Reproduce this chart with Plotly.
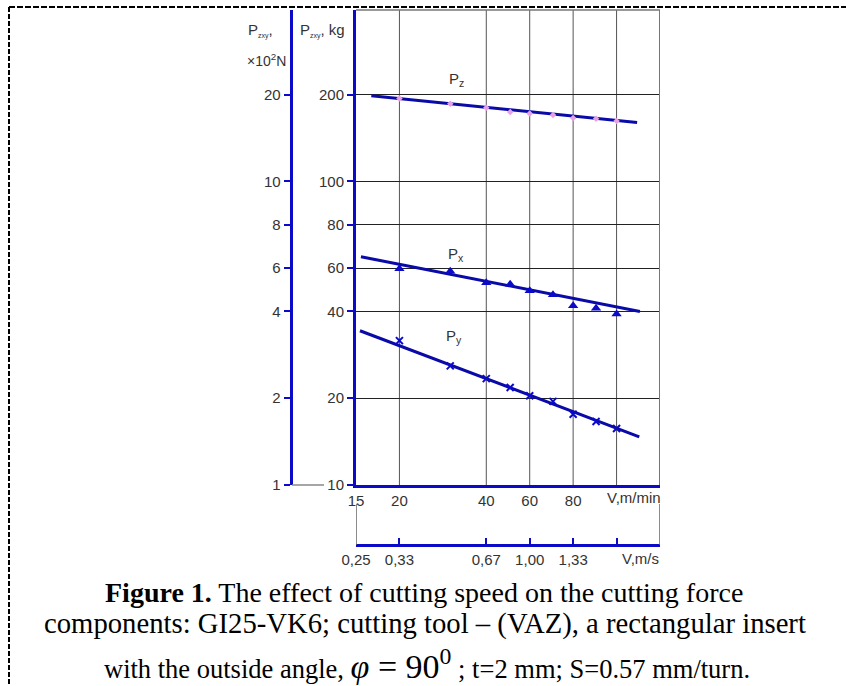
import numpy as np
import plotly.graph_objects as go

# ---- data ----
V_mmin = [20, 30, 40, 50, 60, 70, 80, 90, 100]
Pz_kg = [194, 186, 180, 174, 172, 170, 166, 165, 162]
Px_kg = [59.7, 58.2, 52.3, 51.6, 48.6, 46.8, 42.2, 41.2, 39.2]
Py_kg = [31.7, 25.9, 23.4, 21.8, 20.4, 19.5, 17.6, 16.6, 15.7]

# fitted straight lines: (V start, V end), (P start, P end)
Pz_fit_v = [16.6, 109]
Pz_fit_p = [198, 160]
Px_fit_v = [15.5, 110.3]
Px_fit_p = [64.7, 40.0]
Py_fit_v = [15.4, 110]
Py_fit_p = [34.3, 14.7]

# axis scales of the original (graph-paper scale)
X_SCALE_V = [15, 20, 40, 60, 80, 100, 120]
X_SCALE_POS = [0, 1, 3, 4, 5, 6, 7]
Y_SCALE_V = [10, 20, 40, 60, 80, 100, 200]
Y_SCALE_POS = [0, 2, 4, 5, 6, 7, 9]

x_ticks_v = [15, 20, 40, 60, 80]
x_ticks_ms = ['0,25', '0,33', '0,67', '1,00', '1,33', '', '']
x_ticks_ms_v = [15, 20, 40, 60, 80, 100, 120]
y_ticks_kg = [10, 20, 40, 60, 80, 100, 200]
y_ticks_N = ['1', '2', '4', '6', '8', '10', '20']


def xs(v):
    return np.interp(np.log(np.asarray(v, float)), np.log(X_SCALE_V), X_SCALE_POS)


def ys(v):
    return np.interp(np.log(np.asarray(v, float)), np.log(Y_SCALE_V), Y_SCALE_POS)


W, H = 846, 686
BLUE = '#0a0ac8'
LINEBLUE = '#0a0aa8'
TXT = '#333333'
SANS = 'Liberation Sans, Arial, sans-serif'
SERIF = 'Liberation Serif, Times New Roman, serif'


def px(x):
    return x / W


def py(y):
    return 1 - y / H


fig = go.Figure()

# fitted lines
for fv, fp in [(Pz_fit_v, Pz_fit_p), (Px_fit_v, Px_fit_p), (Py_fit_v, Py_fit_p)]:
    fig.add_trace(go.Scatter(x=xs(fv), y=ys(fp), mode='lines',
                             line=dict(color=LINEBLUE, width=3), hoverinfo='skip'))

fig.add_trace(go.Scatter(x=xs(V_mmin), y=ys(Pz_kg), mode='markers',
                         marker=dict(symbol='diamond', size=5, color='#e6a0e6'), name='Pz'))
fig.add_trace(go.Scatter(x=xs(V_mmin), y=ys(Px_kg), mode='markers',
                         marker=dict(symbol='triangle-up', size=9, color=BLUE), name='Px'))
fig.add_trace(go.Scatter(x=xs(V_mmin), y=ys(Py_kg), mode='markers',
                         marker=dict(symbol='x-thin', size=7, line=dict(color=BLUE, width=2)), name='Py'))

# invisible traces to activate secondary axes
fig.add_trace(go.Scatter(x=[0], y=[0], yaxis='y2', mode='markers', marker=dict(opacity=0), hoverinfo='skip'))
fig.add_trace(go.Scatter(x=[0], y=[0], xaxis='x2', mode='markers', marker=dict(opacity=0), hoverinfo='skip'))

x_dom = [px(356), px(660)]
y_dom = [py(485), py(10)]
TF = dict(family=SANS, size=15, color=TXT)

fig.update_layout(
    width=W, height=H, margin=dict(l=0, r=0, t=0, b=0, autoexpand=False),
    paper_bgcolor='white', plot_bgcolor='white', showlegend=False,
    xaxis=dict(domain=x_dom, range=[0, 7], tickvals=xs(x_ticks_v),
               ticktext=[str(v) for v in x_ticks_v], automargin=False,
               showgrid=False, zeroline=False,
               showline=True, linecolor=BLUE, linewidth=3, ticks='',
               tickfont=TF, anchor='y'),
    xaxis2=dict(overlaying='x', anchor='free', position=py(545), side='bottom',
                range=[0, 7], tickvals=xs(x_ticks_ms_v), ticktext=x_ticks_ms, automargin=False,
                showgrid=False, zeroline=False, showline=True, linecolor=BLUE, linewidth=3,
                ticks='inside', ticklen=6, tickwidth=2, tickcolor=BLUE,
                tickfont=TF),
    yaxis=dict(domain=y_dom, range=[0, 10.95], tickvals=ys(y_ticks_kg),
               ticktext=[str(v) for v in y_ticks_kg], automargin=False,
               showgrid=True, gridcolor='#222222', gridwidth=1, zeroline=False,
               showline=True, linecolor=BLUE, linewidth=3,
               ticks='outside', ticklen=6, tickwidth=2, tickcolor=BLUE,
               tickfont=TF, anchor='x'),
    yaxis2=dict(overlaying='y', anchor='free', position=px(290.7), side='left',
                range=[0, 10.95], tickvals=ys(y_ticks_kg), ticktext=y_ticks_N, automargin=False,
                showgrid=False, zeroline=False, showline=True, linecolor=BLUE, linewidth=3,
                ticks='outside', ticklen=6, tickwidth=2, tickcolor=BLUE,
                tickfont=TF),
)

shapes = []
# vertical gridlines
for v in [20, 40, 60, 80, 100]:
    shapes.append(dict(type='line', xref='x', yref='paper', x0=float(xs(v)), x1=float(xs(v)),
                       y0=y_dom[0], y1=y_dom[1], line=dict(color='#555555', width=1), layer='below'))
# right and top border of the grid
shapes.append(dict(type='line', xref='x', yref='paper', x0=7, x1=7, y0=y_dom[0], y1=y_dom[1],
                   line=dict(color='#777777', width=2)))
shapes.append(dict(type='line', xref='x', yref='paper', x0=0, x1=7, y0=y_dom[1], y1=y_dom[1],
                   line=dict(color='#777777', width=1.5)))
# connectors between the two x scales
for xv in [0, 7]:
    shapes.append(dict(type='line', xref='x', yref='paper', x0=xv, x1=xv, y0=py(545), y1=py(504),
                       line=dict(color='#666666', width=1.5)))
# line from "1" to "10"
shapes.append(dict(type='line', xref='paper', yref='paper', x0=px(292), x1=px(324), y0=py(485), y1=py(485),
                   line=dict(color='#888888', width=1.5)))
# dashed frame
shapes.append(dict(type='line', xref='paper', yref='paper', x0=px(9), x1=1, y0=py(7), y1=py(7),
                   line=dict(color='black', width=2, dash='6px,2px')))
shapes.append(dict(type='line', xref='paper', yref='paper', x0=px(9), x1=px(9), y0=py(7), y1=0,
                   line=dict(color='black', width=2, dash='5px,2px')))
fig.update_layout(shapes=shapes)

ann = []


def txt(x, y, s, size=13, xanchor='center', family=SANS, color=TXT):
    ann.append(dict(x=px(x), y=py(y), xref='paper', yref='paper', text=s, showarrow=False,
                    xanchor=xanchor, yanchor='middle', font=dict(family=family, size=size, color=color)))


SUB = '<sub><span style="font-size:7px">zxy</span></sub>'
txt(456, 80, 'P<sub>z</sub>', 15)
txt(456, 254, 'P<sub>x</sub>', 15)
txt(454, 337, 'P<sub>y</sub>', 15)
txt(663, 497, 'V,m/min', 15, 'right')
txt(661, 558, 'V,m/s', 15, 'right')
txt(246, 30, 'P' + SUB + ',', 15, 'left')
txt(245, 60, '×10<sup>2</sup>N', 14, 'left')
txt(298, 30, 'P' + SUB + ', kg', 15, 'left')

txt(424, 592, '<b>Figure 1.</b> The effect of cutting speed on the cutting force', 28, family=SERIF, color='black')
txt(425, 623, 'components: GI25-VK6; cutting tool – (VAZ), a rectangular insert', 28.7, family=SERIF, color='black')
txt(427, 664, 'with the outside angle, '
              '<span style="font-size:34px"><i>φ</i> = 90<sup>0</sup></span> ; t=2 mm; S=0.57 mm/turn.',
    26.5, family=SERIF, color='black')
fig.update_layout(annotations=ann)

fig.write_html("out.html", config={'displayModeBar': False},
               post_script="document.body.style.margin='0';")
